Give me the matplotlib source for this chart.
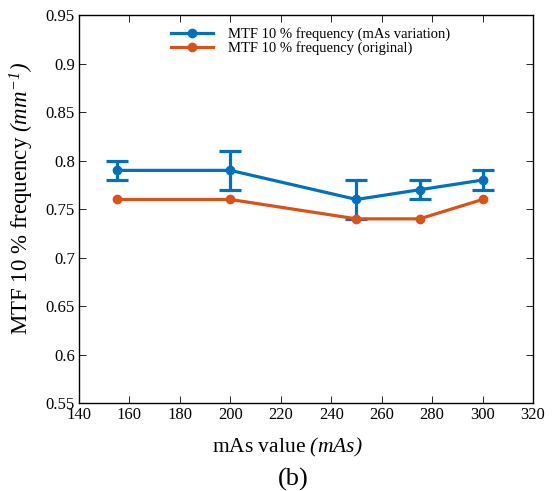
import matplotlib
matplotlib.use('Agg')
import matplotlib.pyplot as plt

# data
mas = [155, 200, 250, 275, 300]
mtf_var = [0.79, 0.79, 0.76, 0.77, 0.78]
mtf_err = [0.01, 0.02, 0.02, 0.01, 0.01]
mtf_orig = [0.76, 0.76, 0.74, 0.74, 0.76]

plt.rcParams.update({
    'font.family': 'Liberation Serif',
    'mathtext.fontset': 'custom',
    'mathtext.rm': 'Liberation Serif:italic',
    'mathtext.it': 'Liberation Serif:italic',
    'axes.linewidth': 1.0,
})

BLUE = '#0072BD'
ORANGE = '#D95319'

fig = plt.figure(figsize=(5.54, 4.91), dpi=100)
ax = fig.add_axes([0.1426, 0.179, 0.8195, 0.790])

ax.errorbar(mas, mtf_var, yerr=mtf_err, color=BLUE, lw=2.3, marker='o',
            ms=6, capsize=8, capthick=2.3, elinewidth=2.3)
ax.plot(mas, mtf_orig, color=ORANGE, lw=2.3, marker='o', ms=6)

# legend handles without the error caps
h1, = ax.plot([], [], color=BLUE, lw=2.3, marker='o', ms=6)
h2, = ax.plot([], [], color=ORANGE, lw=2.3, marker='o', ms=6)
ax.legend([h1, h2], ['MTF 10 % frequency (mAs variation)', 'MTF 10 % frequency (original)'],
          loc='upper left', frameon=False, fontsize=10.5, handlelength=2.9,
          handletextpad=1.0, labelspacing=0.0, borderaxespad=0.0,
          bbox_to_anchor=(0.19, 0.985))

ax.set_xlim(140, 320)
ax.set_ylim(0.55, 0.95)
ax.set_xticks(range(140, 321, 20))
ax.set_yticks([0.55, 0.6, 0.65, 0.7, 0.75, 0.8, 0.85, 0.9, 0.95])
ax.set_yticklabels(['0.55', '0.6', '0.65', '0.7', '0.75', '0.8', '0.85', '0.9', '0.95'])
ax.tick_params(direction='in', top=True, right=True, labelsize=12, length=5, width=0.6, pad=3)

ax.set_xlabel(r'mAs value $(mAs)$', fontsize=15.5)
ax.xaxis.set_label_coords(0.459, -0.085)
ax.set_ylabel(r'MTF 10 % frequency $(mm^{-1})$', fontsize=16.5)
ax.yaxis.set_label_coords(-0.095, 0.527)

fig.text(0.53, 0.0244, '(b)', ha='center', va='center', fontsize=19)

fig.savefig('out.png', dpi=100)
